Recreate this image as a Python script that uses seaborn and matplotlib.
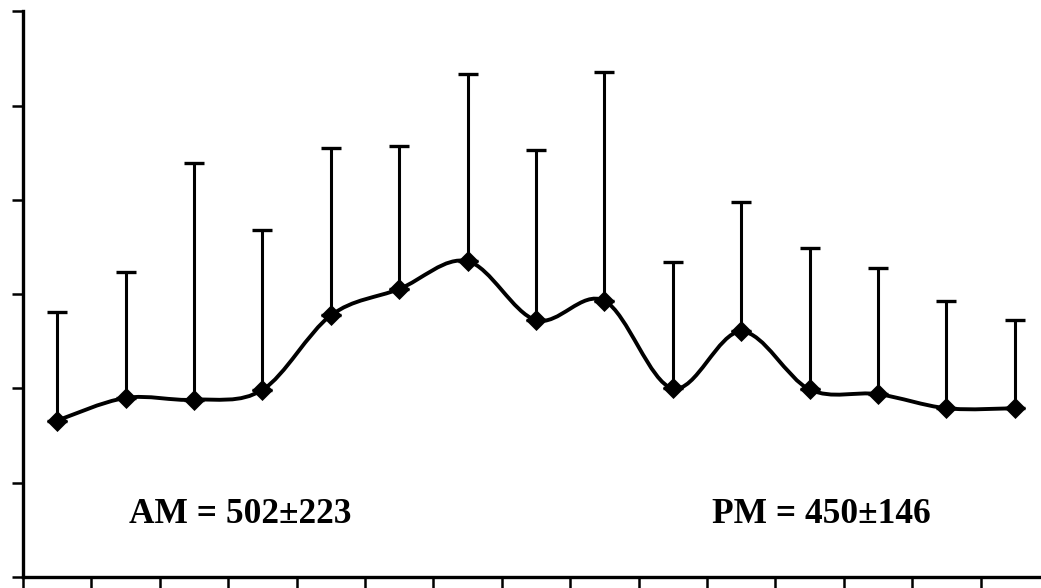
import numpy as np
import pandas as pd
import matplotlib
matplotlib.use("Agg")
import matplotlib.pyplot as plt
from matplotlib.path import Path
from matplotlib.patches import PathPatch
import seaborn as sns

# hourly means with the upper SD bar
hours = list(range(1, 16))
means = [332, 380, 376, 397, 555, 611, 670, 545, 586, 400, 521, 398, 388, 358, 358]
sds = [230, 267, 502, 339, 355, 304, 397, 362, 485, 268, 275, 299, 267, 228, 187]
y_ticks = [0, 200, 400, 600, 800, 1000, 1200]
am_label = "AM = 502±223"
pm_label = "PM = 450±146"


def smooth_path(xs, ys):
    """Catmull-Rom style bezier through the points (like a smoothed line)."""
    pts = np.column_stack([xs, ys]).astype(float)
    padded = np.vstack([pts[0], pts, pts[-1]])
    verts = [tuple(pts[0])]
    codes = [Path.MOVETO]
    for i in range(1, len(padded) - 2):
        p0, p1, p2, p3 = padded[i - 1], padded[i], padded[i + 1], padded[i + 2]
        c1 = p1 + (p2 - p0) / 6.0
        c2 = p2 - (p3 - p1) / 6.0
        verts += [tuple(c1), tuple(c2), tuple(p2)]
        codes += [Path.CURVE4] * 3
    return Path(verts, codes)


df = pd.DataFrame({"hour": hours, "mean": means, "sd": sds})
df["pos"] = np.arange(len(df)) + 0.5

sns.set_style("ticks")
fig = plt.figure(figsize=(10.41, 5.88), dpi=100)
ax = fig.add_axes([23 / 1041, 11 / 588, 1026 / 1041, 565.6 / 588])

ax.errorbar(df["pos"], df["mean"], yerr=[np.zeros(len(df)), df["sd"]],
            fmt="none", ecolor="black", elinewidth=2.2, capsize=7,
            capthick=2.4, zorder=2)
ax.add_patch(PathPatch(smooth_path(df["pos"], df["mean"]), facecolor="none",
                       edgecolor="black", linewidth=2.8, zorder=3))
sns.scatterplot(data=df, x="pos", y="mean", marker="D", s=115,
                color="black", edgecolor="black", linewidth=0, zorder=4, ax=ax)

serif = ["Liberation Serif", "DejaVu Serif"]
ax.text((129 - 23) / 68.4, 115, am_label, fontsize=25.5, fontweight="bold",
        family=serif, color="black", ha="left", va="baseline")
ax.text((712 - 23) / 68.4, 115, pm_label, fontsize=25.5, fontweight="bold",
        family=serif, color="black", ha="left", va="baseline")

ax.set_xlim(0, 15)
ax.set_ylim(y_ticks[0], y_ticks[-1])
ax.set_xticks(range(16))
ax.set_yticks(y_ticks)
ax.set_xticklabels([])
ax.set_yticklabels([])
ax.set_xlabel("")
ax.set_ylabel("")
ax.tick_params(axis="both", direction="out", length=8, width=1.8, color="black")
sns.despine(ax=ax)
for side in ["left", "bottom"]:
    ax.spines[side].set_linewidth(2.4)
    ax.spines[side].set_color("black")

fig.savefig("out.png", dpi=100)
